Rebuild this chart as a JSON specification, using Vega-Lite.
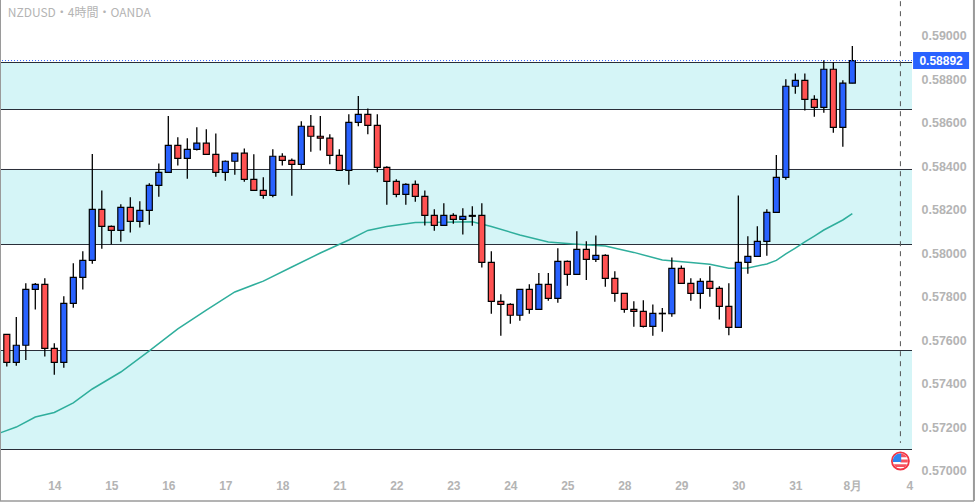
{
"$schema":"https://vega.github.io/schema/vega-lite/v6.json",
"width":912,"height":473,
"autosize":{"type":"none"},
"padding":{"left":0,"top":0,"right":65,"bottom":29},
"background":"white",
"config":{"view":{"stroke":null},"font":"Liberation Sans"},
"datasets":{
"candles":[
{"i":0,"o":0.57628,"h":0.57628,"l":0.5748,"c":0.57499},
{"i":1,"o":0.57499,"h":0.57708,"l":0.57484,"c":0.57578},
{"i":2,"o":0.57578,"h":0.57863,"l":0.5751,"c":0.57835},
{"i":3,"o":0.57835,"h":0.57864,"l":0.57742,"c":0.57858},
{"i":4,"o":0.57858,"h":0.57886,"l":0.57526,"c":0.57564},
{"i":5,"o":0.57564,"h":0.57587,"l":0.57443,"c":0.57499},
{"i":6,"o":0.57499,"h":0.57803,"l":0.57475,"c":0.57771},
{"i":7,"o":0.57771,"h":0.57955,"l":0.57751,"c":0.5789},
{"i":8,"o":0.5789,"h":0.5801,"l":0.57834,"c":0.57968},
{"i":9,"o":0.57968,"h":0.58457,"l":0.57953,"c":0.58203},
{"i":10,"o":0.58203,"h":0.5829,"l":0.58022,"c":0.58125},
{"i":11,"o":0.58125,"h":0.58129,"l":0.58042,"c":0.58106},
{"i":12,"o":0.58106,"h":0.58226,"l":0.58054,"c":0.58212},
{"i":13,"o":0.58212,"h":0.58258,"l":0.58096,"c":0.58148},
{"i":14,"o":0.58148,"h":0.5824,"l":0.58119,"c":0.58198},
{"i":15,"o":0.58198,"h":0.58323,"l":0.58132,"c":0.58313},
{"i":16,"o":0.58313,"h":0.58414,"l":0.58261,"c":0.58373},
{"i":17,"o":0.58373,"h":0.58632,"l":0.58373,"c":0.58497},
{"i":18,"o":0.58497,"h":0.58534,"l":0.58404,"c":0.58437},
{"i":19,"o":0.58437,"h":0.5853,"l":0.58344,"c":0.58479},
{"i":20,"o":0.58479,"h":0.5858,"l":0.58473,"c":0.58507},
{"i":21,"o":0.58507,"h":0.58571,"l":0.58456,"c":0.58456},
{"i":22,"o":0.58456,"h":0.58552,"l":0.58353,"c":0.58373},
{"i":23,"o":0.58373,"h":0.58428,"l":0.58335,"c":0.58424},
{"i":24,"o":0.58424,"h":0.58461,"l":0.58362,"c":0.58461},
{"i":25,"o":0.58461,"h":0.58483,"l":0.5833,"c":0.58341},
{"i":26,"o":0.58341,"h":0.58456,"l":0.5829,"c":0.5829},
{"i":27,"o":0.5829,"h":0.5835,"l":0.58252,"c":0.58267},
{"i":28,"o":0.58267,"h":0.58479,"l":0.58258,"c":0.58447},
{"i":29,"o":0.58447,"h":0.58461,"l":0.58404,"c":0.58428},
{"i":30,"o":0.58428,"h":0.58437,"l":0.58266,"c":0.5841},
{"i":31,"o":0.5841,"h":0.58608,"l":0.58388,"c":0.58585},
{"i":32,"o":0.58585,"h":0.58637,"l":0.58468,"c":0.58539},
{"i":33,"o":0.58539,"h":0.58632,"l":0.58473,"c":0.5853},
{"i":34,"o":0.5853,"h":0.58548,"l":0.5841,"c":0.58451},
{"i":35,"o":0.58451,"h":0.58479,"l":0.58382,"c":0.58382},
{"i":36,"o":0.58382,"h":0.5864,"l":0.58316,"c":0.58603},
{"i":37,"o":0.58603,"h":0.58724,"l":0.58585,"c":0.5864},
{"i":38,"o":0.5864,"h":0.58667,"l":0.58548,"c":0.58589},
{"i":39,"o":0.58589,"h":0.5864,"l":0.58373,"c":0.58396},
{"i":40,"o":0.58396,"h":0.58401,"l":0.58224,"c":0.58332},
{"i":41,"o":0.58332,"h":0.58341,"l":0.58258,"c":0.58272},
{"i":42,"o":0.58272,"h":0.58323,"l":0.58224,"c":0.58318},
{"i":43,"o":0.58318,"h":0.58336,"l":0.58238,"c":0.58263},
{"i":44,"o":0.58263,"h":0.5829,"l":0.58129,"c":0.58175},
{"i":45,"o":0.58175,"h":0.58203,"l":0.58105,"c":0.58129},
{"i":46,"o":0.58129,"h":0.58231,"l":0.58129,"c":0.58175},
{"i":47,"o":0.58175,"h":0.58185,"l":0.58137,"c":0.58157},
{"i":48,"o":0.58157,"h":0.58208,"l":0.58087,"c":0.58171},
{"i":49,"o":0.58175,"h":0.58217,"l":0.58128,"c":0.58171},
{"i":50,"o":0.58175,"h":0.58231,"l":0.57935,"c":0.57959},
{"i":51,"o":0.57959,"h":0.5801,"l":0.57723,"c":0.5778},
{"i":52,"o":0.5778,"h":0.57812,"l":0.57622,"c":0.57766},
{"i":53,"o":0.57766,"h":0.57771,"l":0.57677,"c":0.57716},
{"i":54,"o":0.57716,"h":0.57835,"l":0.57691,"c":0.57835},
{"i":55,"o":0.57835,"h":0.57858,"l":0.57723,"c":0.57743},
{"i":56,"o":0.57743,"h":0.5791,"l":0.57743,"c":0.57858},
{"i":57,"o":0.57858,"h":0.5791,"l":0.57783,"c":0.57794},
{"i":58,"o":0.57794,"h":0.58024,"l":0.57774,"c":0.57964},
{"i":59,"o":0.57964,"h":0.57968,"l":0.57852,"c":0.57904},
{"i":60,"o":0.57904,"h":0.58102,"l":0.57904,"c":0.58019},
{"i":61,"o":0.58019,"h":0.58056,"l":0.57878,"c":0.57973},
{"i":62,"o":0.57973,"h":0.58083,"l":0.57961,"c":0.57991},
{"i":63,"o":0.57991,"h":0.57996,"l":0.57847,"c":0.57886},
{"i":64,"o":0.57886,"h":0.57918,"l":0.57778,"c":0.57817},
{"i":65,"o":0.57817,"h":0.57817,"l":0.57728,"c":0.57743},
{"i":66,"o":0.57743,"h":0.5778,"l":0.57663,"c":0.57734},
{"i":67,"o":0.57734,"h":0.57785,"l":0.5766,"c":0.57665},
{"i":68,"o":0.57665,"h":0.57766,"l":0.57622,"c":0.57725},
{"i":69,"o":0.57723,"h":0.57749,"l":0.5764,"c":0.57725},
{"i":70,"o":0.57723,"h":0.57982,"l":0.57709,"c":0.57932},
{"i":71,"o":0.57932,"h":0.57945,"l":0.57863,"c":0.57863},
{"i":72,"o":0.57863,"h":0.57886,"l":0.57783,"c":0.57817},
{"i":73,"o":0.57817,"h":0.57886,"l":0.57746,"c":0.57872},
{"i":74,"o":0.57872,"h":0.57941,"l":0.57801,"c":0.5784},
{"i":75,"o":0.5784,"h":0.57849,"l":0.57696,"c":0.57757},
{"i":76,"o":0.57757,"h":0.57863,"l":0.57624,"c":0.5766},
{"i":77,"o":0.5766,"h":0.58267,"l":0.5766,"c":0.57959},
{"i":78,"o":0.57959,"h":0.58079,"l":0.57907,"c":0.57987},
{"i":79,"o":0.57987,"h":0.58125,"l":0.57987,"c":0.58056},
{"i":80,"o":0.58056,"h":0.58203,"l":0.5799,"c":0.58189},
{"i":81,"o":0.58189,"h":0.58453,"l":0.58189,"c":0.5835},
{"i":82,"o":0.5835,"h":0.58801,"l":0.58339,"c":0.58769},
{"i":83,"o":0.58769,"h":0.58828,"l":0.58735,"c":0.58796},
{"i":84,"o":0.58796,"h":0.58828,"l":0.58657,"c":0.58709},
{"i":85,"o":0.58709,"h":0.58727,"l":0.58629,"c":0.58672},
{"i":86,"o":0.58672,"h":0.58888,"l":0.58647,"c":0.58847},
{"i":87,"o":0.58847,"h":0.58879,"l":0.58555,"c":0.5858},
{"i":88,"o":0.5858,"h":0.58796,"l":0.58491,"c":0.58783},
{"i":89,"o":0.58783,"h":0.58954,"l":0.58783,"c":0.58887}
],
"ema":[
{"i":-0.7,"v":0.57175},{"i":1,"v":0.57202},{"i":3,"v":0.57248},{"i":5,"v":0.57269},{"i":7,"v":0.57313},{"i":9,"v":0.57377},{"i":12,"v":0.57455},{"i":15,"v":0.57552},{"i":18,"v":0.57653},{"i":21,"v":0.5774},{"i":24,"v":0.57823},{"i":27,"v":0.57873},{"i":30,"v":0.57938},{"i":33,"v":0.58002},{"i":36,"v":0.58062},{"i":38,"v":0.58106},{"i":40,"v":0.58124},{"i":43,"v":0.58142},{"i":46,"v":0.58144},{"i":49,"v":0.58146},{"i":51,"v":0.58124},{"i":54,"v":0.58085},{"i":57,"v":0.58053},{"i":60,"v":0.58043},{"i":63,"v":0.58034},{"i":66,"v":0.58005},{"i":69,"v":0.5797},{"i":72,"v":0.57959},{"i":74,"v":0.5795},{"i":76,"v":0.57932},{"i":78,"v":0.57933},{"i":80,"v":0.57952},{"i":81,"v":0.57968},{"i":82,"v":0.57998},{"i":83,"v":0.58025},{"i":84,"v":0.58053},{"i":85,"v":0.5808},{"i":86,"v":0.58108},{"i":87,"v":0.58131},{"i":88,"v":0.58154},{"i":89,"v":0.58183}
],
"bands":[
{"a":0.588781,"b":0.58662},{"a":0.583862,"b":0.580413},{"a":0.575539,"b":0.570987}
],
"lines":[{"p":0.588781},{"p":0.58662},{"p":0.583862},{"p":0.580413},{"p":0.575539},{"p":0.570987}]
},
"layer":[
{"data":{"name":"bands"},"mark":{"type":"rect","color":"#d5f5f7"},
 "encoding":{"y":{"field":"a","type":"quantitative","scale":{"domain":[0.569907,0.591655],"nice":false,"zero":false},"title":null,
   "axis":{"orient":"right","title":null,"values":[0.57,0.572,0.574,0.576,0.578,0.58,0.582,0.584,0.586,0.588,0.59],"format":".5f","domain":false,"ticks":false,"grid":false,"labelColor":"#b4b4b4","labelFontSize":12.5,"labelFontWeight":"bold","labelPadding":9,"labelBound":false}},
   "y2":{"field":"b"}}},
{"data":{"name":"lines"},"mark":{"type":"rule","color":"#2a2e39","strokeWidth":1},
 "encoding":{"y":{"field":"p","type":"quantitative","scale":{"domain":[0.569907,0.591655],"nice":false,"zero":false},"title":null}}},
{"data":{"name":"ema"},"mark":{"type":"line","color":"#2fae9c","strokeWidth":1.5},
 "encoding":{"x":{"field":"i","type":"quantitative","scale":{"domain":[-0.716,95.28],"nice":false,"zero":false,"padding":0},"title":null,
   "axis":{"title":null,"values":[5,11,17,23,29,35,41,47,53,59,65,71,77,83,89,95],"labelExpr":"['14','15','16','17','18','21','22','23','24','25','28','29','30','31','8月','4'][(datum.value-5)/6]","domain":false,"ticks":false,"grid":false,"labelColor":"#b4b4b4","labelFontSize":12,"labelFontWeight":"bold","labelPadding":7,"labelFlush":false,"labelBound":false,"labelOverlap":false}},
   "y":{"field":"v","type":"quantitative","scale":{"domain":[0.569907,0.591655],"nice":false,"zero":false},"title":null}}},
{"data":{"name":"candles"},"mark":{"type":"rule","color":"#000000","strokeWidth":1.3},
 "encoding":{"x":{"field":"i","type":"quantitative","scale":{"domain":[-0.716,95.28],"nice":false,"zero":false,"padding":0},"title":null},
   "y":{"field":"l","type":"quantitative","scale":{"domain":[0.569907,0.591655],"nice":false,"zero":false},"title":null},"y2":{"field":"h"}}},
{"data":{"name":"candles"},"transform":[{"calculate":"datum.c>=datum.o?'up':'down'","as":"dir"}],
 "mark":{"type":"bar","width":6,"stroke":"#000000","strokeWidth":1.2},
 "encoding":{"x":{"field":"i","type":"quantitative","scale":{"domain":[-0.716,95.28],"nice":false,"zero":false,"padding":0},"title":null},
   "y":{"field":"o","type":"quantitative","scale":{"domain":[0.569907,0.591655],"nice":false,"zero":false},"title":null},"y2":{"field":"c"},
   "color":{"field":"dir","type":"nominal","scale":{"domain":["up","down"],"range":["#2962ff","#ff5252"]},"legend":null}}},
{"data":{"values":[{"p":0.58887}]},"mark":{"type":"rule","color":"#2962ff","strokeWidth":1,"strokeDash":[1,2]},
 "encoding":{"y":{"field":"p","type":"quantitative","scale":{"domain":[0.569907,0.591655],"nice":false,"zero":false},"title":null}}},
{"data":{"values":[{"i":94.06,"a":0.5916,"b":0.57129}]},"mark":{"type":"rule","color":"#555555","strokeWidth":1,"strokeDash":[5,5]},
 "encoding":{"x":{"field":"i","type":"quantitative","scale":{"domain":[-0.716,95.28],"nice":false,"zero":false,"padding":0},"title":null},
   "y":{"field":"a","type":"quantitative","scale":{"domain":[0.569907,0.591655],"nice":false,"zero":false},"title":null},"y2":{"field":"b"}}},
{"data":{"values":[{"i":98.34,"p":0.58887,"label":"0.58892"}]},"mark":{"type":"rect","width":56,"height":17,"color":"#2962ff"},
 "encoding":{"x":{"field":"i","type":"quantitative","scale":{"domain":[-0.716,95.28],"nice":false,"zero":false,"padding":0},"title":null},
   "y":{"field":"p","type":"quantitative","scale":{"domain":[0.569907,0.591655],"nice":false,"zero":false},"title":null}}},
{"data":{"values":[{"i":98.34,"p":0.58887,"label":"0.58892"}]},"mark":{"type":"text","color":"white","fontSize":12,"fontWeight":"bold","align":"center","baseline":"middle"},
 "encoding":{"x":{"field":"i","type":"quantitative","scale":{"domain":[-0.716,95.28],"nice":false,"zero":false,"padding":0},"title":null},
   "y":{"field":"p","type":"quantitative","scale":{"domain":[0.569907,0.591655],"nice":false,"zero":false},"title":null},
   "text":{"field":"label"}}},
{"data":{"values":[{"i":0.1,"p":0.59105,"label":"NZDUSD・4時間・OANDA"}]},"mark":{"type":"text","color":"#b4b4b4","fontSize":12,"font":"Noto Sans CJK JP","align":"left","baseline":"middle"},
 "encoding":{"x":{"field":"i","type":"quantitative","scale":{"domain":[-0.716,95.28],"nice":false,"zero":false,"padding":0},"title":null},
   "y":{"field":"p","type":"quantitative","scale":{"domain":[0.569907,0.591655],"nice":false,"zero":false},"title":null},
   "text":{"field":"label"}}},
{"data":{"values":[{"i":94.06,"p":0.57046}]},"mark":{"type":"point","shape":"circle","filled":true,"fill":"white","stroke":"#f23645","strokeWidth":1.8,"size":290,"opacity":1},
 "encoding":{"x":{"field":"i","type":"quantitative","scale":{"domain":[-0.716,95.28],"nice":false,"zero":false,"padding":0},"title":null},
   "y":{"field":"p","type":"quantitative","scale":{"domain":[0.569907,0.591655],"nice":false,"zero":false},"title":null}}},
{"data":{"values":[{"i":94.06,"p":0.57046}]},"mark":{"type":"point","filled":true,"color":"#f7525f","opacity":1,"size":225,"shape":"M0,-1 A1,1 0 0 1 0.87,-0.5 L0,-0.5 Z M0,-0.2 L0.98,-0.2 A1,1 0 0 1 0.98,0.2 L0,0.2 Z M-0.87,0.45 L0.87,0.45 A1,1 0 0 1 0.6,0.8 L-0.6,0.8 A1,1 0 0 1 -0.87,0.45 Z"},
 "encoding":{"x":{"field":"i","type":"quantitative","scale":{"domain":[-0.716,95.28],"nice":false,"zero":false,"padding":0},"title":null},
   "y":{"field":"p","type":"quantitative","scale":{"domain":[0.569907,0.591655],"nice":false,"zero":false},"title":null}}},
{"data":{"values":[{"i":94.06,"p":0.57046}]},"mark":{"type":"point","filled":true,"color":"#2e86f0","opacity":1,"size":225,"shape":"M-1,0.15 A1,1 0 0 1 0.1,-1 L0.1,0.15 Z"},
 "encoding":{"x":{"field":"i","type":"quantitative","scale":{"domain":[-0.716,95.28],"nice":false,"zero":false,"padding":0},"title":null},
   "y":{"field":"p","type":"quantitative","scale":{"domain":[0.569907,0.591655],"nice":false,"zero":false},"title":null}}},
{"data":{"values":[{"i":-0.716,"a":0.591655,"b":0.56862}]},"mark":{"type":"rule","color":"#9a9a9a","strokeWidth":2},
 "encoding":{"x":{"field":"i","type":"quantitative","scale":{"domain":[-0.716,95.28],"nice":false,"zero":false,"padding":0},"title":null},
   "y":{"field":"a","type":"quantitative","scale":{"domain":[0.569907,0.591655],"nice":false,"zero":false},"title":null},"y2":{"field":"b"}}},
{"data":{"values":[{"i":101.8,"a":0.591655,"b":0.56862}]},"mark":{"type":"rule","color":"#9a9a9a","strokeWidth":2},
 "encoding":{"x":{"field":"i","type":"quantitative","scale":{"domain":[-0.716,95.28],"nice":false,"zero":false,"padding":0},"title":null},
   "y":{"field":"a","type":"quantitative","scale":{"domain":[0.569907,0.591655],"nice":false,"zero":false},"title":null},"y2":{"field":"b"}}},
{"data":{"values":[{"i":-0.716,"j":101.8,"p":0.56862}]},"mark":{"type":"rule","color":"#9a9a9a","strokeWidth":1.5},
 "encoding":{"x":{"field":"i","type":"quantitative","scale":{"domain":[-0.716,95.28],"nice":false,"zero":false,"padding":0},"title":null},"x2":{"field":"j"},
   "y":{"field":"p","type":"quantitative","scale":{"domain":[0.569907,0.591655],"nice":false,"zero":false},"title":null}}}
]
}
